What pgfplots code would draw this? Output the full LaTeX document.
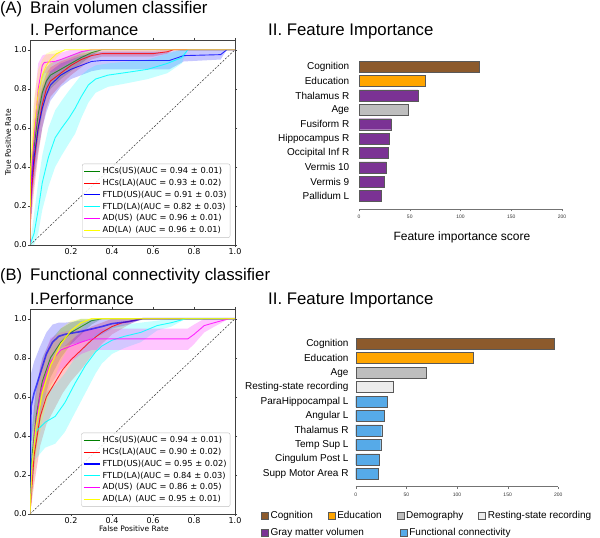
\documentclass[border=0pt]{standalone}
\usepackage{fontspec}
\setmainfont{Liberation Sans}
\newfontfamily\djv{DejaVu Sans}
\usepackage{pgfplots}
\pgfplotsset{compat=1.18}

\definecolor{cogn}{RGB}{140,90,44}
\definecolor{educ}{RGB}{255,165,0}
\definecolor{demo}{RGB}{190,190,190}
\definecolor{rest}{RGB}{236,236,236}
\definecolor{gmv}{RGB}{123,50,148}
\definecolor{fc}{RGB}{86,170,232}
\definecolor{mgreen}{RGB}{0,128,0}
\definecolor{mred}{RGB}{255,0,0}
\definecolor{mblue}{RGB}{0,0,255}
\definecolor{mcyan}{RGB}{0,255,255}
\definecolor{mmag}{RGB}{255,0,255}
\definecolor{myel}{RGB}{255,255,0}

\newcommand{\sqimg}[1]{\addlegendimage{legend image code/.code={\draw[fill=#1, draw=black!65] (0pt,-3.5pt) rectangle (7pt,3.5pt);}}}

\pgfplotsset{
  roc/.style={
    scale only axis, width=205pt, height=205pt,
    xmin=0, xmax=1, ymin=0, ymax=1.05,
    xtick={0.2,0.4,0.6,0.8,1.0}, ytick={0,0.2,0.4,0.6,0.8,1.0},
    /pgf/number format/assume math mode=true,
    xticklabel style={/pgf/number format/fixed, /pgf/number format/fixed zerofill, /pgf/number format/precision=1},
    yticklabel style={/pgf/number format/fixed, /pgf/number format/fixed zerofill, /pgf/number format/precision=1},
    tick label style={font=\djv\fontsize{8}{9}\selectfont, inner sep=1pt},
    tick align=outside, major tick length=2pt,
    axis line style={black!75}, tick style={black!75},
    label style={font=\djv\fontsize{7.5}{9}\selectfont},
    legend cell align=left,
    legend style={at={(0.977,0.035)}, anchor=south east,
      font=\djv\fontsize{8.3}{9.5}\selectfont, draw=black!25, rounded corners=2pt,
      fill=white, fill opacity=0.85, text opacity=1, inner sep=1.5pt, row sep=0pt},
    legend image code/.code={\draw[##1, draw opacity=1] (0pt,0pt) -- (16pt,0pt);},
    band/.style={draw=none, fill=##1, fill opacity=0.22, forget plot},
    diag/.style={black!80, line width=0.5pt, dash pattern=on 2pt off 1.5pt, forget plot},
  },
  fbar/.style={
    scale only axis, xbar, bar shift=0pt, bar width=11pt,
    xmin=0, xmax=200, ymin=-0.9, ymax=9.6,
    xtick={0,50,100,150,200}, ytick={0,1,2,3,4,5,6,7,8,9},
    axis x line*=bottom, axis y line*=left,
    x axis line style={black!55, -}, y axis line style={draw=none},
    ytick style={draw=none}, xtick style={black!55},
    tick align=outside, major tick length=2.5pt,
    /pgf/number format/assume math mode=true,
    xticklabel style={font=\fontsize{5}{6}\selectfont, black!80},
    yticklabel style={font=\fontsize{10}{12}\selectfont, inner sep=0pt},
  },
  legax/.style={
    scale only axis, width=10pt, height=10pt, hide axis,
    xmin=0, xmax=1, ymin=0, ymax=1,
    legend cell align=left,
    legend style={at={(0,1)}, anchor=north west,
      draw=none, fill=none, font=\fontsize{10}{12}\selectfont, inner sep=0pt},
  },
}

\begin{document}
\begin{tikzpicture}
\path[use as bounding box] (0pt,0pt) rectangle (600pt,538pt);

% Titles
\node[anchor=base west, inner sep=0pt, font=\fontsize{16.5}{19}\selectfont] at (0pt,524.7pt) {(A)};
\node[anchor=base west, inner sep=0pt, font=\fontsize{16.8}{19}\selectfont] at (30pt,524.7pt) {Brain volumen classifier};
\node[anchor=base west, inner sep=0pt, font=\fontsize{16.5}{19}\selectfont] at (30pt,502.7pt) {I. Performance};
\node[anchor=base west, inner sep=0pt, font=\fontsize{16.8}{19}\selectfont] at (268pt,502.7pt) {II. Feature Importance};
\node[anchor=base west, inner sep=0pt, font=\fontsize{16.5}{19}\selectfont] at (0pt,257pt) {(B)};
\node[anchor=base west, inner sep=0pt, font=\fontsize{16.8}{19}\selectfont] at (30pt,257pt) {Functional connectivity classifier};
\node[anchor=base west, inner sep=0pt, font=\fontsize{16.5}{19}\selectfont] at (30pt,233.7pt) {I.Performance};
\node[anchor=base west, inner sep=0pt, font=\fontsize{16.8}{19}\selectfont] at (268pt,233.7pt) {II. Feature Importance};

% ---------------- A: ROC ----------------
\begin{axis}[roc, at={(30pt,293pt)}, anchor=south west,
  ylabel={True Positive Rate},
  ylabel style={at={(axis description cs:-0.107,0.5)}, anchor=center}]
% confidence bands (upper edge forward, lower edge back)
\addplot[band=mgreen] coordinates {(0,0)(0.005,0.40)(0.02,0.62)(0.04,0.78)(0.06,0.87)(0.08,0.91)(0.10,0.93)(0.15,0.95)(0.20,0.97)(0.25,0.99)(0.30,1.0)(0.35,1.0)(0.30,0.97)(0.25,0.93)(0.20,0.89)(0.15,0.85)(0.10,0.80)(0.08,0.76)(0.06,0.68)(0.04,0.55)(0.02,0.38)(0.005,0.20)} -- cycle;
\addplot[band=mred] coordinates {(0,0)(0.005,0.38)(0.02,0.56)(0.04,0.72)(0.06,0.82)(0.08,0.88)(0.10,0.91)(0.15,0.94)(0.20,0.96)(0.25,0.98)(0.30,0.99)(0.35,0.995)(0.60,0.995)(0.67,1.0)(0.70,1.0)(0.67,0.98)(0.60,0.965)(0.35,0.965)(0.30,0.95)(0.25,0.91)(0.20,0.87)(0.15,0.82)(0.10,0.76)(0.08,0.70)(0.06,0.60)(0.04,0.46)(0.02,0.28)(0.005,0.12)} -- cycle;
\addplot[band=mblue] coordinates {(0,0)(0.005,0.42)(0.02,0.57)(0.04,0.72)(0.06,0.80)(0.08,0.85)(0.10,0.89)(0.15,0.93)(0.20,0.95)(0.25,0.97)(0.30,0.98)(0.35,0.99)(0.68,0.99)(0.75,1.0)(0.93,1.0)(0.96,1.0)(0.93,0.95)(0.75,0.94)(0.68,0.90)(0.35,0.90)(0.30,0.89)(0.25,0.87)(0.20,0.85)(0.15,0.81)(0.10,0.74)(0.08,0.68)(0.06,0.60)(0.04,0.48)(0.02,0.33)(0.005,0.18)} -- cycle;
\addplot[band=mcyan] coordinates {(0,0)(0.02,0.16)(0.04,0.32)(0.06,0.46)(0.09,0.60)(0.123,0.69)(0.155,0.74)(0.19,0.79)(0.22,0.83)(0.25,0.87)(0.285,0.90)(0.32,0.92)(0.38,0.93)(0.48,0.94)(0.575,0.95)(0.67,0.98)(0.74,1.0)(0.77,1.0)(0.74,0.93)(0.67,0.88)(0.575,0.85)(0.48,0.83)(0.38,0.81)(0.32,0.78)(0.285,0.73)(0.25,0.65)(0.22,0.57)(0.19,0.52)(0.155,0.46)(0.123,0.40)(0.09,0.30)(0.06,0.18)(0.04,0.06)(0.02,0)} -- cycle;
\addplot[band=mmag] coordinates {(0,0)(0.005,0.45)(0.02,0.72)(0.04,0.93)(0.06,0.97)(0.07,0.975)(0.12,0.98)(0.15,0.985)(0.20,1.0)(0.25,1.0)(0.30,1.0)(0.25,0.98)(0.20,0.94)(0.15,0.91)(0.12,0.89)(0.07,0.88)(0.06,0.85)(0.04,0.65)(0.02,0.38)(0.005,0.15)} -- cycle;
\addplot[band=myel] coordinates {(0,0)(0.003,0.55)(0.02,0.75)(0.04,0.90)(0.06,0.95)(0.08,0.98)(0.10,0.99)(0.13,1.0)(0.17,1.0)(0.13,0.96)(0.10,0.91)(0.08,0.86)(0.06,0.78)(0.04,0.66)(0.02,0.45)(0.003,0.25)} -- cycle;
\addplot[diag] coordinates {(0,0) (1,1)};
% mean ROC curves
\addplot[mgreen, draw opacity=0.7, line width=0.9pt] coordinates {(0,0)(0.005,0.30)(0.02,0.50)(0.04,0.67)(0.06,0.78)(0.08,0.84)(0.10,0.87)(0.15,0.90)(0.20,0.93)(0.25,0.96)(0.30,0.985)(0.35,1.0)(1.0,1.0)};
\addlegendentry{HCs(US)(AUC = 0.94 ± 0.01)}
\addplot[mred, draw opacity=0.8, line width=0.9pt] coordinates {(0,0)(0.005,0.25)(0.02,0.42)(0.04,0.60)(0.06,0.72)(0.08,0.80)(0.10,0.84)(0.15,0.88)(0.20,0.92)(0.25,0.95)(0.30,0.97)(0.35,0.98)(0.60,0.98)(0.67,0.99)(0.70,1.0)(1.0,1.0)};
\addlegendentry{HCs(LA)(AUC = 0.93 ± 0.02)}
\addplot[mblue, draw opacity=0.8, line width=0.9pt] coordinates {(0,0)(0.005,0.30)(0.02,0.45)(0.04,0.60)(0.06,0.70)(0.08,0.77)(0.10,0.82)(0.15,0.87)(0.20,0.90)(0.25,0.92)(0.30,0.94)(0.35,0.945)(0.68,0.945)(0.75,0.97)(0.93,0.975)(0.96,1.0)(1.0,1.0)};
\addlegendentry{FTLD(US)(AUC = 0.91 ± 0.03)}
\addplot[mcyan, draw opacity=0.85, line width=0.9pt] coordinates {(0,0)(0.02,0.06)(0.04,0.18)(0.06,0.32)(0.09,0.45)(0.123,0.55)(0.155,0.60)(0.19,0.65)(0.22,0.70)(0.25,0.76)(0.285,0.82)(0.32,0.85)(0.38,0.87)(0.48,0.885)(0.575,0.90)(0.67,0.93)(0.74,0.96)(0.77,1.0)(1.0,1.0)};
\addlegendentry{FTLD(LA)(AUC = 0.82 ± 0.03)}
\addplot[mmag, draw opacity=0.8, line width=0.9pt] coordinates {(0,0)(0.005,0.30)(0.02,0.55)(0.04,0.80)(0.06,0.92)(0.07,0.935)(0.12,0.94)(0.15,0.95)(0.20,0.97)(0.25,0.99)(0.30,1.0)(1.0,1.0)};
\addlegendentry{AD(US)\hspace{0.45em}(AUC = 0.96 ± 0.01)}
\addplot[myel, draw opacity=0.85, line width=0.9pt] coordinates {(0,0)(0.003,0.40)(0.02,0.60)(0.04,0.78)(0.06,0.87)(0.08,0.92)(0.10,0.95)(0.13,0.98)(0.17,1.0)(1.0,1.0)};
\addlegendentry{AD(LA)\hspace{0.45em}(AUC = 0.96 ± 0.01)}
\end{axis}

% ---------------- A: Feature importance ----------------
\begin{axis}[fbar, width=203pt, height=150.9pt, at={(359pt,329pt)}, anchor=south west,
  yticklabels={Pallidum L, Vermis 9, Vermis 10, Occipital Inf R, Hippocampus R, Fusiform R, Age, Thalamus R, Education, Cognition},
  y tick label style={xshift=-7pt},
  xlabel={Feature importance score},
  xlabel style={at={(axis description cs:0.507,-0.19)}, anchor=center, font=\fontsize{12}{14}\selectfont}]
\addplot[fill=cogn, draw=black!65] coordinates {(118,9)};
\addplot[fill=educ, draw=black!65] coordinates {(65,8)};
\addplot[fill=gmv, draw=black!65] coordinates {(58,7) (32,5) (30,4) (29,3) (27,2) (25,1) (22,0)};
\addplot[fill=demo, draw=black!65] coordinates {(48,6)};
\end{axis}

% ---------------- B: ROC ----------------
\begin{axis}[roc, at={(30pt,24pt)}, anchor=south west,
  xlabel={False Positive Rate},
  xlabel style={at={(axis description cs:0.507,-0.073)}, anchor=center}]
\addplot[band=mgreen] coordinates {(0,0)(0.01,0.45)(0.03,0.65)(0.06,0.80)(0.10,0.89)(0.15,0.95)(0.20,0.98)(0.25,1.0)(0.30,1.0)(0.35,1.0)(0.30,0.97)(0.25,0.92)(0.20,0.87)(0.15,0.80)(0.10,0.70)(0.06,0.55)(0.03,0.35)(0.01,0.15)} -- cycle;
\addplot[band=mred] coordinates {(0,0)(0.02,0.45)(0.05,0.65)(0.08,0.74)(0.12,0.80)(0.16,0.85)(0.20,0.89)(0.25,0.93)(0.30,0.96)(0.35,0.98)(0.40,1.0)(0.45,1.0)(0.50,1.0)(0.55,1.0)(0.50,0.98)(0.45,0.95)(0.40,0.92)(0.35,0.87)(0.30,0.81)(0.25,0.74)(0.20,0.68)(0.16,0.62)(0.12,0.54)(0.08,0.46)(0.05,0.35)(0.02,0.15)} -- cycle;
\addplot[band=mblue] coordinates {(0,0)(0.005,0.72)(0.02,0.78)(0.05,0.86)(0.08,0.93)(0.11,0.97)(0.14,0.98)(0.17,0.98)(0.25,0.99)(0.35,1.0)(0.40,1.0)(0.48,1.0)(0.55,1.0)(0.48,0.97)(0.40,0.95)(0.35,0.92)(0.25,0.88)(0.17,0.86)(0.14,0.84)(0.11,0.78)(0.08,0.70)(0.05,0.58)(0.02,0.46)(0.005,0.38)} -- cycle;
\addplot[band=mcyan] coordinates {(0,0)(0.01,0.40)(0.026,0.58)(0.074,0.62)(0.123,0.66)(0.17,0.72)(0.22,0.80)(0.27,0.87)(0.32,0.92)(0.35,0.94)(0.40,0.96)(0.46,0.97)(0.54,0.98)(0.62,0.99)(0.69,1.0)(0.76,1.0)(0.69,0.96)(0.62,0.94)(0.54,0.88)(0.46,0.85)(0.40,0.82)(0.35,0.77)(0.32,0.72)(0.27,0.62)(0.22,0.52)(0.17,0.42)(0.123,0.36)(0.074,0.34)(0.026,0.28)(0.01,0.10)} -- cycle;
\addplot[band=mmag] coordinates {(0,0)(0.02,0.55)(0.05,0.76)(0.10,0.90)(0.15,0.93)(0.20,0.94)(0.25,0.945)(0.30,0.95)(0.77,0.95)(0.80,0.97)(0.85,1.0)(0.90,1.0)(0.97,1.0)(0.90,0.96)(0.85,0.93)(0.80,0.87)(0.77,0.84)(0.30,0.84)(0.25,0.82)(0.20,0.78)(0.15,0.74)(0.10,0.66)(0.05,0.48)(0.02,0.25)} -- cycle;
\addplot[band=myel] coordinates {(0,0)(0.01,0.40)(0.03,0.60)(0.06,0.76)(0.10,0.87)(0.15,0.95)(0.20,0.99)(0.25,1.0)(0.30,1.0)(0.25,0.95)(0.20,0.88)(0.15,0.78)(0.10,0.64)(0.06,0.48)(0.03,0.30)(0.01,0.10)} -- cycle;
\addplot[diag] coordinates {(0,0) (1,1)};
\addplot[mgreen, draw opacity=0.7, line width=0.9pt] coordinates {(0,0)(0.01,0.30)(0.03,0.50)(0.06,0.68)(0.10,0.80)(0.15,0.88)(0.20,0.93)(0.25,0.96)(0.30,0.99)(0.35,1.0)(1.0,1.0)};
\addlegendentry{HCs(US)(AUC = 0.94 ± 0.01)}
\addplot[mred, draw opacity=0.8, line width=0.9pt] coordinates {(0,0)(0.02,0.30)(0.05,0.50)(0.08,0.60)(0.12,0.67)(0.16,0.74)(0.20,0.79)(0.25,0.84)(0.30,0.89)(0.35,0.93)(0.40,0.96)(0.45,0.98)(0.50,0.99)(0.55,1.0)(1.0,1.0)};
\addlegendentry{HCs(LA)(AUC = 0.90 ± 0.02)}
\addplot[mblue, draw opacity=0.65, line width=1.6pt] coordinates {(0,0)(0.005,0.55)(0.02,0.62)(0.05,0.72)(0.08,0.82)(0.11,0.88)(0.14,0.91)(0.17,0.92)(0.25,0.935)(0.35,0.96)(0.40,0.975)(0.48,0.985)(0.55,1.0)(1.0,1.0)};
\addlegendentry{FTLD(US)(AUC = 0.95 ± 0.02)}
\addplot[mcyan, draw opacity=0.85, line width=0.9pt] coordinates {(0,0)(0.01,0.25)(0.026,0.42)(0.074,0.47)(0.123,0.50)(0.17,0.57)(0.22,0.67)(0.27,0.76)(0.32,0.83)(0.35,0.86)(0.40,0.89)(0.46,0.91)(0.54,0.93)(0.62,0.965)(0.69,0.98)(0.76,1.0)(1.0,1.0)};
\addlegendentry{FTLD(LA)(AUC = 0.84 ± 0.03)}
\addplot[mmag, draw opacity=0.8, line width=0.9pt] coordinates {(0,0)(0.02,0.40)(0.05,0.62)(0.10,0.78)(0.15,0.84)(0.20,0.86)(0.25,0.88)(0.30,0.897)(0.77,0.897)(0.80,0.92)(0.85,0.965)(0.90,0.98)(0.97,1.0)(1.0,1.0)};
\addlegendentry{AD(US)\hspace{0.45em}(AUC = 0.86 ± 0.05)}
\addplot[myel, draw opacity=0.85, line width=1.2pt] coordinates {(0,0)(0.01,0.25)(0.03,0.45)(0.06,0.62)(0.10,0.76)(0.15,0.87)(0.20,0.94)(0.25,0.98)(0.30,1.0)(1.0,1.0)};
\addlegendentry{AD(LA)\hspace{0.45em}(AUC = 0.95 ± 0.01)}
\end{axis}

% ---------------- B: Feature importance ----------------
\begin{axis}[fbar, width=202.6pt, height=151.6pt, at={(355.7pt,51.3pt)}, anchor=south west,
  yticklabels={Supp Motor Area R, Cingulum Post L, Temp Sup L, Thalamus R, Angular L, ParaHippocampal L, Resting-state recording, Age, Education, Cognition},
  y tick label style={xshift=-4.5pt}]
\addplot[fill=cogn, draw=black!65] coordinates {(196,9)};
\addplot[fill=educ, draw=black!65] coordinates {(115.5,8)};
\addplot[fill=demo, draw=black!65] coordinates {(70,7)};
\addplot[fill=rest, draw=black!65] coordinates {(37.5,6)};
\addplot[fill=fc, draw=black!65] coordinates {(30.7,5) (28.4,4) (25.7,3) (24.7,2) (23.4,1) (22.4,0)};
\end{axis}

% ---------------- B: legend rows ----------------
\begin{axis}[legax, at={(261pt,19pt)}, anchor=south west, legend columns=4,
  legend style={/tikz/every even column/.append style={column sep=13pt}}]
\sqimg{cogn}\addlegendentry{Cognition}
\sqimg{educ}\addlegendentry{Education}
\sqimg{demo}\addlegendentry{Demography}
\sqimg{rest}\addlegendentry{Resting-state recording}
\end{axis}
\begin{axis}[legax, at={(261pt,2pt)}, anchor=south west, legend columns=2,
  legend style={/tikz/every even column/.append style={column sep=34pt}}]
\sqimg{gmv}\addlegendentry{Gray matter volumen}
\sqimg{fc}\addlegendentry{Functional connectivity}
\end{axis}
\end{tikzpicture}
\end{document}
